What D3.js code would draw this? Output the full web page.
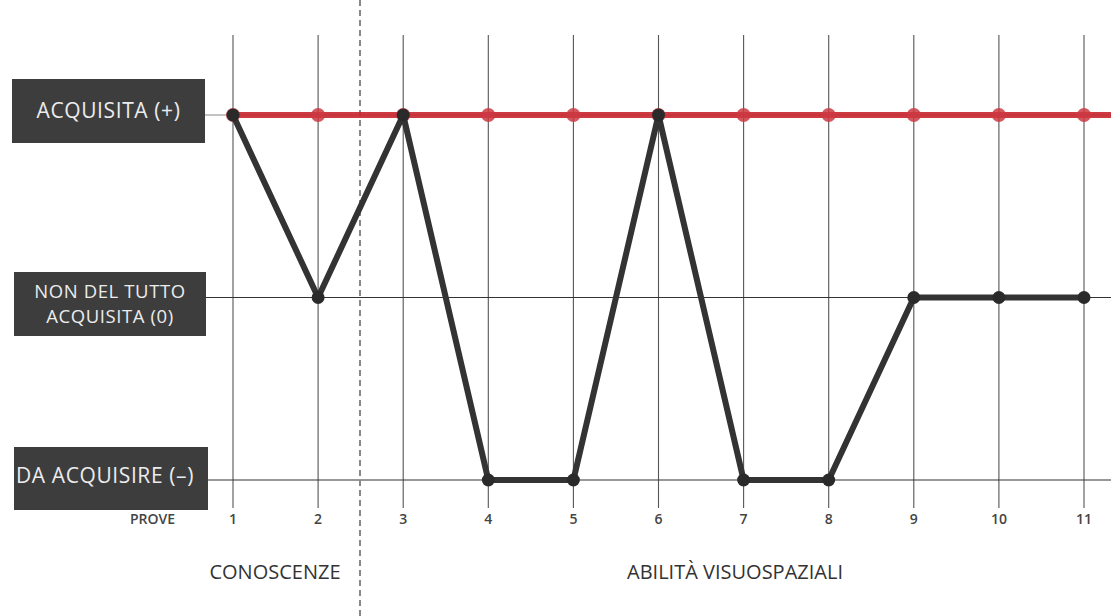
<!DOCTYPE html>
<html>
<head>
<meta charset="utf-8">
<script src="https://cdn.jsdelivr.net/npm/d3@7"></script>
<style>
  html, body { margin: 0; padding: 0; background: #fff; }
  svg { display: block; font-family: "Open Sans", "Noto Sans", sans-serif; }
</style>
</head>
<body>
<div id="chart"></div>
<script>
// levels (bottom to top) and their box labels
const levels = ["-", "0", "+"];
const levelLabels = {
  "+": ["ACQUISITA (+)"],
  "0": ["NON DEL TUTTO", "ACQUISITA (0)"],
  "-": ["DA ACQUISIRE (–)"]
};
// trials
const trials = [1, 2, 3, 4, 5, 6, 7, 8, 9, 10, 11];
// observed result per trial (black line)
const observed = ["+", "0", "+", "-", "-", "+", "-", "-", "0", "0", "0"];
// target (red line)
const target = ["+", "+", "+", "+", "+", "+", "+", "+", "+", "+", "+"];
// section split & titles
const sectionNames = ["CONOSCENZE", "ABILITÀ VISUOSPAZIALI"];

const width = 1111, height = 616;

const svg = d3.select("#chart").append("svg")
  .attr("width", width)
  .attr("height", height);

const x = d3.scaleLinear().domain([1, 11]).range([233, 1084]);
const y = d3.scalePoint().domain(levels).range([480, 115]);

// vertical trial lines
svg.append("g").selectAll("line")
  .data(trials)
  .join("line")
    .attr("x1", d => x(d)).attr("x2", d => x(d))
    .attr("y1", 35).attr("y2", 508)
    .attr("stroke", "#555")
    .attr("stroke-width", 1.1);

// horizontal level lines
svg.append("g").selectAll("line")
  .data(levels)
  .join("line")
    .attr("x1", 200).attr("x2", width)
    .attr("y1", d => y(d)).attr("y2", d => y(d))
    .attr("stroke", d => d === "+" ? "#888" : "#333")
    .attr("stroke-width", 1.2);

// dashed section divider
svg.append("line")
  .attr("x1", 360).attr("x2", 360)
  .attr("y1", 0).attr("y2", height)
  .attr("stroke", "#888")
  .attr("stroke-width", 2)
  .attr("stroke-dasharray", "6,4");

// level boxes
const boxes = {
  "+": { x: 12, y: 79, w: 193, h: 64, dy: [3], fs: 21 },
  "0": { x: 14, y: 272, w: 192, h: 64, dy: [0, 25], fs: 18.5 },
  "-": { x: 14, y: 447, w: 194, h: 63, dy: [3], fs: 21 }
};
levels.forEach(l => {
  const b = boxes[l];
  svg.append("rect")
    .attr("x", b.x).attr("y", b.y)
    .attr("width", b.w).attr("height", b.h)
    .attr("fill", "#3d3d3d");
  const t = svg.append("text")
    .attr("fill", "#ececec")
    .attr("font-size", b.fs)
    .attr("letter-spacing", 0.6)
    .attr("text-anchor", l === "-" ? "start" : "middle");
  levelLabels[l].forEach((s, i) => {
    t.append("tspan")
      .attr("x", l === "-" ? b.x + 2 : b.x + b.w / 2)
      .attr("y", y(l) + b.dy[i])
      .text(s);
  });
});

// red target line
const tgt = trials.map((t, i) => ({ t, v: target[i] }));
svg.append("line")
  .attr("x1", x(1)).attr("x2", width)
  .attr("y1", y("+")).attr("y2", y("+"))
  .attr("stroke", "#c9252e")
  .attr("stroke-width", 6)
  .attr("opacity", 0.9);
svg.append("g").selectAll("circle")
  .data(tgt)
  .join("circle")
    .attr("cx", d => x(d.t))
    .attr("cy", d => y(d.v))
    .attr("r", 7)
    .attr("fill", "#cc3a42")
    .attr("opacity", 0.85);

// black observed line
const obs = trials.map((t, i) => ({ t, v: observed[i] }));
svg.append("path")
  .datum(obs)
  .attr("fill", "none")
  .attr("stroke", "#333")
  .attr("stroke-width", 6)
  .attr("stroke-linejoin", "round")
  .attr("d", d3.line().x(d => x(d.t)).y(d => y(d.v)));
svg.append("g").selectAll("circle")
  .data(obs)
  .join("circle")
    .attr("cx", d => x(d.t))
    .attr("cy", d => y(d.v))
    .attr("r", 6.5)
    .attr("fill", "#2a2a2a");

// trial numbers
svg.append("g").selectAll("text")
  .data(trials)
  .join("text")
    .attr("x", d => x(d))
    .attr("y", 524)
    .attr("text-anchor", "middle")
    .attr("font-size", 14)
    .attr("font-weight", 600)
    .attr("fill", "#444")
    .text(d => d);

svg.append("text")
  .attr("x", 130).attr("y", 524)
  .attr("font-size", 14)
  .attr("font-weight", 600)
  .attr("fill", "#444")
  .text("PROVE");

// section titles
svg.append("text")
  .attr("x", 275).attr("y", 579)
  .attr("text-anchor", "middle")
  .attr("font-size", 20)
  .attr("fill", "#333")
  .text(sectionNames[0]);
svg.append("text")
  .attr("x", 735).attr("y", 579)
  .attr("text-anchor", "middle")
  .attr("font-size", 20)
  .attr("fill", "#333")
  .text(sectionNames[1]);
</script>
</body>
</html>
